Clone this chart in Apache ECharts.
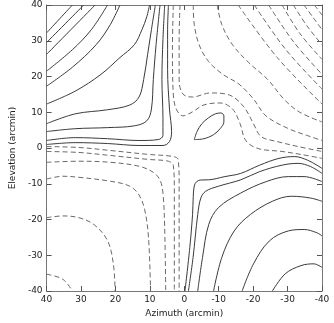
<!DOCTYPE html>
<html><head><meta charset="utf-8">
<script src="https://cdn.jsdelivr.net/npm/echarts@6/dist/echarts.min.js"></script>
<style>html,body{margin:0;padding:0;background:#fff}#c{width:334px;height:323px}</style>
</head><body><div id="c"></div>
<script>
// Axis ticks (arcmin)
const azTicks = [40, 30, 20, 10, 0, -10, -20, -30, -40];
const elTicks = [-40, -30, -20, -10, 0, 10, 20, 30, 40];

// Positive contours (solid), top-left quadrant: [azimuth, elevation]
const tl1 = [[40,32.2],[32.5,40]];
const tl2 = [[40,29.5],[29.2,40]];
const tl3 = [[40,26.2],[25.9,40]];
const tl4 = [[40,21.5],[32.5,27.5],[27.0,33.1],[22.3,40]];
const tl5 = [[40,17.3],[32.5,22.6],[25.6,28.9],[21.5,34.5],[18.7,40]];
const tl6 = [[40,12.3],[31.7,15.9],[24.2,20.6],[18.7,25.3],[14.5,28.9],[12.3,33.1],[10.9,36.7],[10.1,40]];
const tl7 = [[40,6.8],[31.7,9.55],[22.3,10.7],[15.9,12.0],[13.15,14.25],[11.8,19.2],[10.65,26.2],[9.55,33.1],[8.4,40]];
const tl8 = [[40,4.6],[31.7,5.4],[22.3,5.7],[14.5,6.2],[10.9,7.6],[9.55,10.9],[9.0,19.2],[8.2,28.9],[7.05,40]];
const tl9 = [[40,2.1],[31.7,2.9],[22.3,2.6],[13.15,2.1],[7.6,2.35],[6.2,3.5],[6.2,8.2],[6.5,19.2],[6.2,30.3],[5.7,40]];
const tl10 = [[40,0.97],[31.7,1.5],[22.3,1.25],[13.15,0.7],[6.2,0.7],[4.3,1.8],[3.7,4.6],[4.3,10.9],[4.85,22.0],[4.85,33.1],[4.6,40]];

// Positive contours (solid), bottom-right quadrant
const br1 = [[-0.2,-40],[-1.6,-27.8],[-2.4,-18.6],[-2.6,-13.5],[-2.9,-10.6],[-3.6,-9.4],[-4.8,-8.95],[-7.1,-8.9],[-11.8,-8.0],[-16.4,-7.1],[-21.9,-4.8],[-27.5,-2.9],[-32.1,-2.4],[-35.8,-3.4],[-38.5,-4.8],[-40,-5.7]];
const br2 = [[-1.2,-40],[-2.55,-30.6],[-3.9,-18.6],[-4.8,-14.0],[-6.2,-12.1],[-9.9,-10.7],[-16.4,-8.9],[-21.9,-6.6],[-28.4,-4.8],[-33.0,-4.3],[-36.7,-5.2],[-40,-7.1]];
const br3 = [[-3.9,-40],[-5.3,-30.6],[-7.1,-21.4],[-9.9,-16.7],[-16.4,-12.6],[-23.8,-9.4],[-30.2,-8.0],[-34.8,-8.0],[-40,-9.4]];
const br4 = [[-8.5,-40],[-10.9,-30.6],[-14.5,-23.2],[-19.2,-18.6],[-25.6,-14.9],[-31.1,-13.5],[-36.7,-14.0],[-40,-14.9]];
const br5 = [[-16.8,-40],[-20.1,-32.4],[-24.7,-26.0],[-30.2,-23.2],[-34.8,-22.8],[-38.5,-23.7],[-40,-24.6]];
const br6 = [[-25.6,-40],[-29.3,-35.2],[-33.9,-32.9],[-37.6,-32.4],[-40,-33.4]];

// Positive closed contour near the centre
const loop = [[-2.9,2.35],[-3.7,4.6],[-5.1,6.8],[-7.05,8.45],[-9.0,9.55],[-10.65,9.8],[-11.5,9.0],[-11.5,7.3],[-10.4,5.4],[-8.45,3.7],[-5.7,2.6],[-2.9,2.35]];

// Negative contours (dashed), bottom-left quadrant
const bl1 = [[40,0.4],[30.6,0.14],[21.45,-0.7],[10.4,-1.8],[3.45,-2.35],[1.8,-3.2],[1.5,-9.8],[1.5,-25.0],[1.5,-40]];
const bl2 = [[40,-0.97],[30.6,-1.25],[21.45,-2.1],[10.4,-3.2],[4.6,-3.7],[3.2,-4.85],[2.9,-11.2],[2.9,-25.0],[2.9,-40]];
const bl3 = [[40,-4.0],[30.6,-3.7],[21.45,-4.0],[13.15,-5.1],[9.0,-6.8],[7.05,-9.0],[6.2,-12.6],[5.7,-22.3],[5.4,-40]];
const bl4 = [[40,-8.7],[35.3,-7.9],[30.6,-8.2],[21.45,-9.3],[15.9,-10.65],[13.15,-13.15],[11.5,-17.3],[10.4,-25.05],[9.8,-40]];
const bl5 = [[40,-19.5],[35.3,-19.0],[30.6,-19.5],[26.2,-21.45],[22.3,-25.9],[20.6,-32.5],[20.1,-40]];
const bl6 = [[40,-35.3],[35.3,-36.7],[32.5,-40]];

// Negative contours (dashed), top-right quadrant
const tr1 = [[3.2,40],[3.45,27.5],[3.2,15.1],[2.35,10.9],[0.4,9.0],[-2.35,10.1],[-5.7,12.05],[-10.4,12.6],[-14.0,10.9],[-16.2,6.8],[-17.85,2.1],[-21.45,-0.15],[-28.4,-0.97],[-33.9,-1.8],[-40,-2.9]];
const tr2 = [[1.25,40],[1.5,30.3],[1.5,19.2],[0.4,15.1],[-2.35,14.25],[-7.6,15.4],[-13.15,14.8],[-17.3,11.5],[-20.1,6.8],[-22.3,3.2],[-27.0,1.8],[-33.1,0.4],[-40,-0.97]];
const tr3 = [[-2.6,40],[-2.9,34.5],[-4.3,28.9],[-7.05,24.2],[-11.2,20.6],[-15.9,17.85],[-20.1,13.7],[-23.7,9.0],[-30.3,5.4],[-35.85,3.45],[-40,2.1]];
const tr4 = [[-9.55,40],[-10.9,34.5],[-14.0,28.9],[-18.7,23.9],[-24.2,19.2],[-28.9,13.7],[-33.35,10.1],[-40,7.3]];
const tr5 = [[-15.65,40],[-27.0,25.3],[-40,12.3]];
const tr6 = [[-20.35,40],[-29.5,27.5],[-40,16.5]];
const tr7 = [[-24.5,40],[-31.7,29.75],[-40,20.6]];
const tr8 = [[-28.4,40],[-33.6,32.0],[-40,24.8]];
const tr9 = [[-31.7,40],[-35.6,34.2],[-40,28.9]];
const tr10 = [[-34.75,40],[-37.5,36.4],[-40,33.1]];
const tr11 = [[-37.8,40],[-40,37.2]];

const solidSet = [tl1,tl2,tl3,tl4,tl5,tl6,tl7,tl8,tl9,tl10,br1,br2,br3,br4,br5,br6,loop];
const dashedSet = [bl1,bl2,bl3,bl4,bl5,bl6,tr1,tr2,tr3,tr4,tr5,tr6,tr7,tr8,tr9,tr10,tr11];

const series = [];
solidSet.forEach(d => series.push({type:'line', data:d, showSymbol:false, smooth:0.35, silent:true,
  lineStyle:{color:'#3a3a3a', width:1, type:'solid'}}));
dashedSet.forEach(d => series.push({type:'line', data:d, showSymbol:false, smooth:0.35, silent:true,
  lineStyle:{color:'#6a6a6a', width:1, type:[5,3]}}));

const font = 'DejaVu Sans';
const axisLine = {show:true, onZero:false, lineStyle:{color:'#777', width:1}};
const tick = {show:true, inside:true, length:5, lineStyle:{color:'#555'}};
const chart = echarts.init(document.getElementById('c'), null, {renderer:'canvas'});
chart.setOption({
  animation:false,
  grid:{left:33, right:12, top:5, bottom:29, containLabel:false},
  xAxis:[
    {type:'value', min:-40, max:40, interval:10, inverse:true, position:'bottom',
     name:'Azimuth (arcmin)', nameLocation:'middle', nameGap:18,
     nameTextStyle:{fontFamily:font, fontSize:9, color:'#222'},
     axisLine:axisLine, axisTick:tick, splitLine:{show:false},
     axisLabel:{fontFamily:font, fontSize:9, color:'#222', margin:4,
       formatter: v => azTicks.includes(v) ? String(v) : ''}},
    {type:'value', min:-40, max:40, interval:10, inverse:true, position:'top',
     axisLine:axisLine, axisTick:tick, splitLine:{show:false}, axisLabel:{show:false}}
  ],
  yAxis:[
    {type:'value', min:-40, max:40, interval:10, position:'left',
     name:'Elevation (arcmin)', nameLocation:'middle', nameGap:25,
     nameTextStyle:{fontFamily:font, fontSize:9, color:'#222'},
     axisLine:axisLine, axisTick:tick, splitLine:{show:false},
     axisLabel:{fontFamily:font, fontSize:9, color:'#222', margin:4,
       formatter: v => elTicks.includes(v) ? String(v) : ''}},
    {type:'value', min:-40, max:40, interval:10, position:'right',
     axisLine:axisLine, axisTick:tick, splitLine:{show:false}, axisLabel:{show:false}}
  ],
  series: series
});
</script></body></html>
